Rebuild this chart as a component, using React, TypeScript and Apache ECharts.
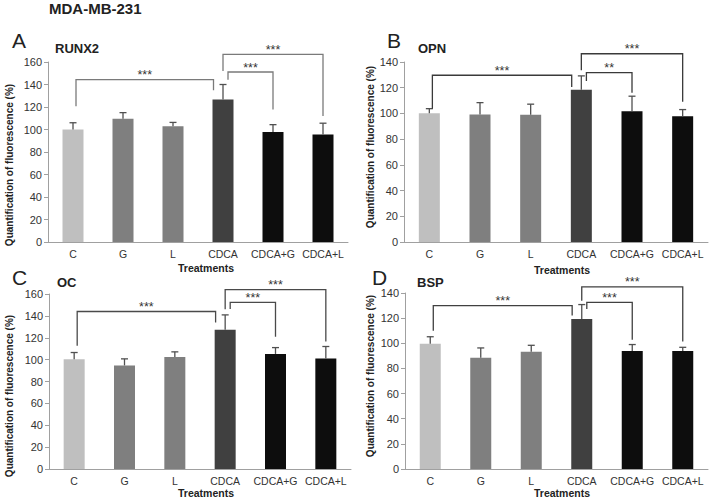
import React, { useEffect, useRef } from "react";
import * as echarts from "echarts";

// ---- data ----
const categories = ["C", "G", "L", "CDCA", "CDCA+G", "CDCA+L"];

const runx2Mean = [100, 109.5, 102.8, 126.6, 97.8, 95.6];
const runx2Sd = [6, 5.5, 3.5, 13.4, 6.5, 10];
const runx2Brackets = [
  [0, 3, 120.6, 134.8, 144.3],
  [3, 4, 144.3, 117.7, 151.1],
  [3, 5, 152, 112, 166.8],
];
const runx2Sig = ["***", "***", "***"];

const opnMean = [100.2, 99.2, 99, 118.4, 101.6, 97.8];
const opnSd = [3.5, 9.2, 8.2, 10.8, 11.8, 5.2];
const opnBrackets = [
  [0, 3, 103.6, 120.6, 129.7],
  [3, 4, 125.3, 116, 131.7],
  [3, 5, 133.6, 109, 146.4],
];
const opnSig = ["***", "**", "***"];

const ocMean = [100.4, 94.7, 102.3, 127.3, 105.2, 101];
const ocSd = [6.1, 6, 4.8, 13.6, 5.8, 11];
const ocBrackets = [
  [0, 3, 112.6, 134, 144],
  [3, 4, 146.2, 121, 152.3],
  [3, 5, 146, 116.6, 164],
];
const ocSig = ["***", "***", "***"];

const bspMean = [99.6, 88.5, 93.3, 119.3, 93.8, 93.8];
const bspSd = [5.6, 7.8, 5.1, 11.5, 5.2, 3];
const bspBrackets = [
  [0, 3, 110, 122.2, 129.9],
  [3, 4, 127.2, 102.8, 132.5],
  [3, 5, 133.9, 101.5, 144.8],
];
const bspSig = ["***", "***", "***"];

const yMaxA = 160;
const yMaxB = 140;
const yMaxC = 160;
const yMaxD = 140;

const panelLetters = ["A", "B", "C", "D"];
const geneNames = ["RUNX2", "OPN", "OC", "BSP"];
const mainTitle = "MDA-MB-231";
const xName = "Treatments";
const yName = "Quantification of fluorescence (%)";

// ---- styles / layout ----
const barColors = ["#bfbfbf", "#7f7f7f", "#7f7f7f", "#404040", "#0d0d0d", "#0d0d0d"];
const FONT = "Liberation Sans, Arial, sans-serif";
const ARM_SHIFT = [
  [0.06, -0.19],
  [0.1, 0],
  [0, 0],
];
const layouts = [
  { grid: { left: 48, top: 62, width: 300, height: 180 }, letter: [12, 40], gene: [55, 48], yname: [9, 165], treat: [206, 268], br: "#7a7a7a" },
  { grid: { left: 404, top: 62, width: 304, height: 180 }, letter: [387, 40], gene: [418, 48], yname: [370, 147], treat: [562, 270], br: "#3a3a3a" },
  { grid: { left: 49, top: 294, width: 302, height: 175 }, letter: [12, 277], gene: [57, 282], yname: [9, 396], treat: [206, 493], br: "#4a4a4a" },
  { grid: { left: 405, top: 293, width: 303, height: 176 }, letter: [372, 277], gene: [417, 282], yname: [370, 376], treat: [562, 493], br: "#404040" },
];

export default function App() {
  const ref = useRef<HTMLDivElement>(null);
  useEffect(() => {
    if (!ref.current) return;
    const chart = echarts.init(ref.current, undefined, { renderer: "svg" });
    const panels = [
      { mean: runx2Mean, sd: runx2Sd, br: runx2Brackets, sig: runx2Sig, max: yMaxA },
      { mean: opnMean, sd: opnSd, br: opnBrackets, sig: opnSig, max: yMaxB },
      { mean: ocMean, sd: ocSd, br: ocBrackets, sig: ocSig, max: yMaxC },
      { mean: bspMean, sd: bspSd, br: bspBrackets, sig: bspSig, max: yMaxD },
    ];
    const grid: any[] = [];
    const xAxis: any[] = [];
    const yAxis: any[] = [];
    const series: any[] = [];
    const graphic: any[] = [
      {
        type: "text",
        x: 49,
        y: 8,
        style: { text: mainTitle, font: `bold 15px ${FONT}`, fill: "#222", verticalAlign: "middle" },
      },
    ];
    panels.forEach((p, k) => {
      const L = layouts[k];
      grid.push({ ...L.grid, containLabel: false });
      xAxis.push({
        type: "category",
        gridIndex: k,
        data: categories,
        axisTick: { show: false },
        axisLine: { lineStyle: { color: "#a0a0a0", width: 1 } },
        axisLabel: { fontSize: 10.5, color: "#333", fontFamily: FONT, margin: 6, interval: 0 },
      });
      yAxis.push({
        type: "value",
        gridIndex: k,
        min: 0,
        max: p.max,
        interval: 20,
        splitLine: { show: false },
        axisLine: { show: true, lineStyle: { color: "#a0a0a0", width: 1 } },
        axisTick: { show: true, length: 4, lineStyle: { color: "#a0a0a0" } },
        axisLabel: { fontSize: 11, color: "#333", fontFamily: FONT, margin: 6 },
      });
      series.push({
        type: "bar",
        xAxisIndex: k,
        yAxisIndex: k,
        barWidth: 21,
        data: p.mean.map((v, i) => ({ value: v, itemStyle: { color: barColors[i] } })),
        z: 2,
      });
      series.push({
        type: "custom",
        xAxisIndex: k,
        yAxisIndex: k,
        z: 3,
        data: p.mean.map((m, i) => [i, m, m + p.sd[i]]),
        encode: { x: 0, y: [1, 2] },
        renderItem: (params: any, api: any) => {
          const b = api.coord([api.value(0), api.value(1)]);
          const t = api.coord([api.value(0), api.value(2)]);
          const st = { stroke: "#505050", lineWidth: 1.3 };
          return {
            type: "group",
            children: [
              { type: "line", shape: { x1: b[0], y1: b[1], x2: t[0], y2: t[1] }, style: st },
              { type: "line", shape: { x1: t[0] - 3.5, y1: t[1], x2: t[0] + 3.5, y2: t[1] }, style: st },
            ],
          };
        },
      });
      series.push({
        type: "custom",
        xAxisIndex: k,
        yAxisIndex: k,
        z: 4,
        clip: false,
        data: p.br,
        encode: { x: [0, 1], y: [2, 3, 4] },
        renderItem: (params: any, api: any) => {
          const idx = params.dataIndex;
          const band = api.size([1, 0])[0];
          const sh = ARM_SHIFT[idx];
          const x1 = api.coord([api.value(0), 0])[0] + sh[0] * band;
          const x2 = api.coord([api.value(1), 0])[0] + sh[1] * band;
          const y1 = api.coord([0, api.value(2)])[1];
          const y2 = api.coord([0, api.value(3)])[1];
          const yt = api.coord([0, api.value(4)])[1];
          return {
            type: "group",
            children: [
              {
                type: "polyline",
                shape: { points: [[x1, y1], [x1, yt], [x2, yt], [x2, y2]] },
                style: { stroke: L.br, lineWidth: 1.3, fill: "none" },
              },
              {
                type: "text",
                x: (x1 + x2) / 2,
                y: yt + 2,
                style: {
                  text: p.sig[idx],
                  font: `12.5px ${FONT}`,
                  fill: "#333",
                  align: "center",
                  verticalAlign: "bottom",
                },
              },
            ],
          };
        },
      });
      graphic.push(
        {
          type: "text",
          x: L.letter[0],
          y: L.letter[1],
          style: { text: panelLetters[k], font: `21px ${FONT}`, fill: "#222", verticalAlign: "middle" },
        },
        {
          type: "text",
          x: L.gene[0],
          y: L.gene[1],
          style: { text: geneNames[k], font: `bold 13px ${FONT}`, fill: "#222", verticalAlign: "middle" },
        },
        {
          type: "text",
          x: L.treat[0],
          y: L.treat[1],
          style: { text: xName, font: `bold 10.5px ${FONT}`, fill: "#222", align: "center", verticalAlign: "middle" },
        },
        {
          type: "text",
          x: L.yname[0],
          y: L.yname[1],
          rotation: Math.PI / 2,
          style: { text: yName, font: `bold 10px ${FONT}`, fill: "#222", align: "center", verticalAlign: "middle" },
        }
      );
    });
    chart.setOption({
      animation: false,
      backgroundColor: "#ffffff",
      grid,
      xAxis,
      yAxis,
      series,
      graphic,
    });
    return () => chart.dispose();
  }, []);
  return (
    <div
      ref={ref}
      style={{ position: "fixed", left: 0, top: 0, width: 709, height: 499, background: "#fff" }}
    />
  );
}
